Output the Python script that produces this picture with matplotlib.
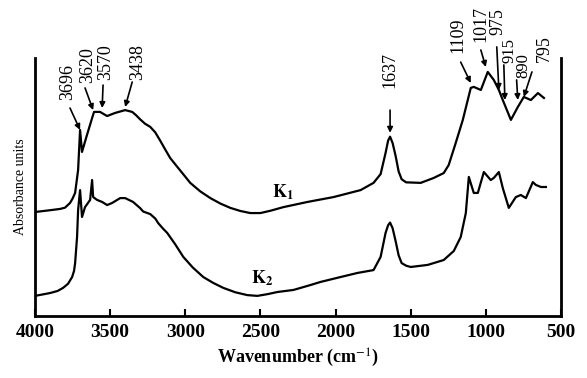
import numpy as np
import matplotlib
matplotlib.use("Agg")
import matplotlib.pyplot as plt

plt.rcParams['font.family'] = ['Liberation Serif', 'DejaVu Serif']
plt.rcParams['mathtext.fontset'] = 'stix'

# Spectrum K1 (upper trace), wavenumber in cm-1 / absorbance (arb. units)
k1_wn = [4000, 3900, 3833, 3800, 3767, 3750, 3733, 3713, 3700, 3687, 3660,
         3620, 3607, 3567, 3520, 3467, 3400, 3353, 3327, 3300, 3267, 3233,
         3200, 3167, 3133, 3100, 3053, 3000, 2967, 2900, 2833, 2767, 2700,
         2633, 2567, 2500, 2433, 2347, 2187, 2013, 1833, 1747, 1700, 1667,
         1650, 1637, 1620, 1600, 1580, 1560, 1530, 1433, 1347, 1280, 1247,
         1200, 1153, 1100, 1080, 1033, 987, 947, 913, 887, 833, 787, 747,
         700, 653, 613]
k1_abs = [0.403, 0.410, 0.415, 0.420, 0.438, 0.455, 0.477, 0.566, 0.721,
          0.636, 0.690, 0.767, 0.791, 0.791, 0.775, 0.787, 0.798, 0.791,
          0.778, 0.762, 0.745, 0.733, 0.712, 0.680, 0.645, 0.612, 0.578,
          0.540, 0.516, 0.483, 0.457, 0.436, 0.419, 0.407, 0.399, 0.399,
          0.408, 0.422, 0.442, 0.461, 0.488, 0.516, 0.550, 0.632, 0.680,
          0.695, 0.670, 0.620, 0.560, 0.530, 0.518, 0.516, 0.535, 0.554,
          0.585, 0.671, 0.760, 0.884, 0.888, 0.876, 0.946, 0.915, 0.876,
          0.837, 0.760, 0.810, 0.849, 0.837, 0.864, 0.845]

# Spectrum K2 (lower trace)
k2_wn = [4000, 3900, 3850, 3813, 3780, 3753, 3740, 3733, 3720, 3713, 3700,
         3687, 3667, 3633, 3620, 3613, 3587, 3553, 3520, 3487, 3433, 3400,
         3347, 3300, 3280, 3233, 3200, 3180, 3150, 3120, 3067, 3013, 2950,
         2880, 2813, 2747, 2667, 2587, 2520, 2450, 2387, 2280, 2167, 2100,
         1967, 1853, 1747, 1700, 1667, 1650, 1637, 1620, 1600, 1580, 1560,
         1530, 1500, 1387, 1280, 1213, 1167, 1133, 1113, 1080, 1053, 1013,
         967, 947, 913, 887, 847, 800, 767, 733, 687, 667, 633, 600]
k2_abs = [0.078, 0.089, 0.097, 0.109, 0.125, 0.151, 0.175, 0.205, 0.306,
          0.411, 0.488, 0.384, 0.422, 0.450, 0.527, 0.461, 0.450, 0.442,
          0.430, 0.438, 0.457, 0.457, 0.442, 0.418, 0.405, 0.395, 0.378,
          0.360, 0.340, 0.322, 0.278, 0.229, 0.188, 0.151, 0.128, 0.109,
          0.092, 0.081, 0.078, 0.085, 0.093, 0.101, 0.120, 0.132, 0.151,
          0.167, 0.178, 0.229, 0.322, 0.352, 0.362, 0.340, 0.290, 0.235,
          0.205, 0.195, 0.190, 0.198, 0.217, 0.252, 0.306, 0.399, 0.539,
          0.477, 0.477, 0.558, 0.527, 0.535, 0.558, 0.496, 0.419, 0.461,
          0.469, 0.457, 0.519, 0.508, 0.500, 0.500]

# Band labels on K1: label, arrow tip, arrow tail, text anchor
peak_labels = ["3696", "3620", "3570", "3438", "1637", "1109",
               "1017", "975", "915", "890", "795"]
tip_pos = [(3700, 0.721), (3613, 0.798), (3553, 0.806), (3400, 0.810),
           (1637, 0.710), (1100, 0.903), (1000, 0.965), (913, 0.876),
           (873, 0.837), (787, 0.837), (747, 0.849)]
tail_pos = [(3767, 0.806), (3667, 0.884), (3547, 0.895), (3353, 0.907),
            (1637, 0.798), (1167, 0.984), (1033, 1.031), (927, 1.043),
            (880, 0.973), (795, 0.915), (693, 0.946)]
text_pos = [(3780, 0.837), (3653, 0.903), (3527, 0.915), (3320, 0.915),
            (1637, 0.884), (1187, 1.019), (1033, 1.062), (920, 1.089),
            (840, 0.981), (752, 0.922), (613, 0.984)]

fig = plt.figure(figsize=(5.87, 3.78), dpi=100)
ax = fig.add_axes([0.0596, 0.164, 0.896, 0.6826])

ax.plot(k1_wn, k1_abs, color='black', lw=1.6)
ax.plot(k2_wn, k2_abs, color='black', lw=1.6)

for lab, tip, tail, tp in zip(peak_labels, tip_pos, tail_pos, text_pos):
    fs = 12 if lab in ("915", "890") else 13
    ax.annotate('', xy=tip, xytext=tail,
                arrowprops=dict(arrowstyle='-|>', color='black', lw=1.2,
                                mutation_scale=8, shrinkA=0, shrinkB=0))
    ax.text(tp[0], tp[1], lab, rotation=90, ha='center', va='bottom',
            fontsize=fs, clip_on=False)

ax.text(2347, 0.481, r'$\mathbf{K_1}$', fontsize=13, ha='center', va='center')
ax.text(2487, 0.147, r'$\mathbf{K_2}$', fontsize=13, ha='center', va='center')

ax.set_xlim(4000, 500)
ax.set_ylim(0, 1)
ax.set_xticks(np.arange(4000, 499, -500))
ax.set_yticks([])
ax.tick_params(axis='x', direction='in', length=5, width=1.5,
               labelsize=14, pad=6)
for t in ax.get_xticklabels():
    t.set_fontweight('bold')
ax.spines['top'].set_visible(False)
for s in ['left', 'right', 'bottom']:
    ax.spines[s].set_linewidth(2)

ax.set_xlabel(r'Wavenumber (cm$^{-1}$)', fontsize=13, fontweight='bold',
              labelpad=4)
ax.set_ylabel('Absorbance units', fontsize=10, labelpad=6)

fig.savefig('out.png', dpi=100)
